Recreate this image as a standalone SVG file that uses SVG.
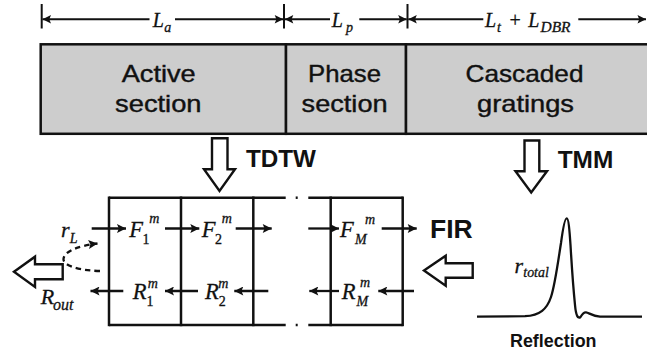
<svg xmlns="http://www.w3.org/2000/svg" width="647" height="354" viewBox="0 0 647 354">
<style>
.box{fill:#cdcdcd;stroke:#111;stroke-width:2.5}
.sec{font-family:"Liberation Sans",Arial,sans-serif;font-size:24px;fill:#111;stroke:#111;stroke-width:0.4;text-anchor:middle}
.bold{font-family:"Liberation Sans",Arial,sans-serif;font-weight:bold;fill:#111}
.m{font-family:"Liberation Serif","Times New Roman",serif;font-style:italic;fill:#111;stroke:#111;stroke-width:0.3}
.up{font-family:"Liberation Serif","Times New Roman",serif;fill:#111;stroke:#111;stroke-width:0.3}
.ln{stroke:#111;stroke-width:2.5;fill:none}
.dim{stroke:#111;stroke-width:2;fill:none}
.ar{stroke:#111;stroke-width:2.3;fill:none}
.open{fill:#fff;stroke:#111;stroke-width:2.4;stroke-linejoin:miter}
</style>
<defs>
<marker id="ah" viewBox="0 0 10 10" refX="10" refY="5" markerWidth="10" markerHeight="9" markerUnits="userSpaceOnUse" orient="auto-start-reverse">
<path d="M0,0 L10,5 L0,10 L2,5 z" fill="#111"/>
</marker>
<marker id="dh" viewBox="0 0 10 10" refX="10" refY="5" markerWidth="10" markerHeight="8.5" markerUnits="userSpaceOnUse" orient="auto-start-reverse">
<path d="M0,0 L10,5 L0,10 L2,5 z" fill="#111"/>
</marker>
</defs>

<g id="active-section">
<rect class="box" x="40.7" y="44.3" width="245.3" height="89.5"/>
<text class="sec" x="158.7" y="81.7" textLength="74" lengthAdjust="spacingAndGlyphs">Active</text>
<text class="sec" x="158.3" y="111.7" textLength="86.5" lengthAdjust="spacingAndGlyphs">section</text>
</g>
<g id="phase-section">
<rect class="box" x="286" y="44.3" width="120" height="89.5"/>
<text class="sec" x="344.5" y="81.7" textLength="73" lengthAdjust="spacingAndGlyphs">Phase</text>
<text class="sec" x="344.6" y="111.7" textLength="86" lengthAdjust="spacingAndGlyphs">section</text>
</g>
<g id="cascaded-gratings">
<rect class="box" x="406" y="44.3" width="260" height="89.5"/>
<text class="sec" x="524.5" y="81.7" textLength="118" lengthAdjust="spacingAndGlyphs">Cascaded</text>
<text class="sec" x="525.5" y="111.7" textLength="97" lengthAdjust="spacingAndGlyphs">gratings</text>
</g>

<g id="dimensions">
<line class="dim" x1="41.7" y1="4" x2="41.7" y2="28.5"/>
<line class="dim" x1="284" y1="4" x2="284" y2="28.5"/>
<line class="dim" x1="407.5" y1="4" x2="407.5" y2="28.5"/>
<line class="dim" x1="42.5" y1="19.3" x2="149.5" y2="19.3" marker-start="url(#dh)"/>
<line class="dim" x1="175" y1="19.3" x2="283.2" y2="19.3" marker-end="url(#dh)"/>
<line class="dim" x1="284.8" y1="19.3" x2="330" y2="19.3" marker-start="url(#dh)"/>
<line class="dim" x1="359.3" y1="19.3" x2="406.7" y2="19.3" marker-end="url(#dh)"/>
<line class="dim" x1="408.3" y1="19.3" x2="483.3" y2="19.3" marker-start="url(#dh)"/>
<line class="dim" x1="578.3" y1="19.3" x2="646" y2="19.3" marker-end="url(#dh)"/>
<text class="m" x="152.7" y="26.5" font-size="20">L</text>
<text class="m" x="164.3" y="32" font-size="14">a</text>
<text class="m" x="331.7" y="26.5" font-size="20">L</text>
<text class="m" x="346" y="32" font-size="14">p</text>
<text class="m" x="485" y="26.5" font-size="20">L</text>
<text class="m" x="497" y="32" font-size="14">t</text>
<text class="up" x="509.5" y="26.5" font-size="20">+</text>
<text class="m" x="528.3" y="26.5" font-size="20">L</text>
<text class="m" x="540.5" y="32" font-size="14" textLength="30" lengthAdjust="spacingAndGlyphs">DBR</text>
</g>

<g id="tdtw">
<polygon class="open" points="212,138.3 227.5,138.3 227.5,169.3 235,169.3 219.5,191 204,169.3 212,169.3"/>
<text class="bold" x="246" y="167" font-size="24" textLength="70" lengthAdjust="spacingAndGlyphs">TDTW</text>
</g>
<g id="tmm">
<polygon class="open" points="524.5,140.5 539.3,140.5 539.3,171.3 547,171.3 531.2,192.5 515.5,171.3 524.5,171.3"/>
<text class="bold" x="557.7" y="167.7" font-size="24" textLength="55.6" lengthAdjust="spacingAndGlyphs">TMM</text>
</g>

<g id="grid">
<line class="ln" x1="109" y1="197.7" x2="285.7" y2="197.7"/>
<line class="ln" x1="295.7" y1="197.7" x2="297.7" y2="197.7"/>
<line class="ln" x1="308.3" y1="197.7" x2="402.7" y2="197.7"/>
<line class="ln" x1="109" y1="325" x2="285.7" y2="325"/>
<line class="ln" x1="295.7" y1="325" x2="297.7" y2="325"/>
<line class="ln" x1="308.3" y1="325" x2="402.7" y2="325"/>
<line class="ln" x1="109" y1="196.5" x2="109" y2="326.2"/>
<line class="ln" x1="181" y1="196.5" x2="181" y2="326.2"/>
<line class="ln" x1="253.3" y1="196.5" x2="253.3" y2="326.2"/>
<line class="ln" x1="330.7" y1="196.5" x2="330.7" y2="326.2"/>
<line class="ln" x1="402.7" y1="196.5" x2="402.7" y2="326.2"/>
<text class="m" x="129.3" y="237.3" font-size="22.5">F</text>
<text class="up" x="142.5" y="243.5" font-size="14">1</text>
<text class="m" x="149.3" y="223.3" font-size="14">m</text>
<text class="m" x="201.7" y="237.3" font-size="22.5">F</text>
<text class="up" x="215" y="243.5" font-size="14">2</text>
<text class="m" x="221.7" y="223.3" font-size="14">m</text>
<text class="m" x="340" y="237.3" font-size="22.5">F</text>
<text class="m" x="355" y="243.5" font-size="14">M</text>
<text class="m" x="365" y="223.8" font-size="14">m</text>
<text class="m" x="132.7" y="299.3" font-size="22.5">R</text>
<text class="up" x="146.6" y="305.5" font-size="14">1</text>
<text class="m" x="147.7" y="288.3" font-size="14">m</text>
<text class="m" x="205" y="299.3" font-size="22.5">R</text>
<text class="up" x="218.8" y="305.5" font-size="14">2</text>
<text class="m" x="218.3" y="288.3" font-size="14">m</text>
<text class="m" x="341.7" y="299.3" font-size="22.5">R</text>
<text class="m" x="356.5" y="305.5" font-size="14">M</text>
<text class="m" x="360" y="286.7" font-size="14">m</text>
</g>

<g id="r-l">
<text class="m" x="61" y="237.3" font-size="22">r</text>
<text class="m" x="69.8" y="243.3" font-size="14">L</text>
</g>
<g id="r-out">
<polygon class="open" points="14,271.7 35,256.7 35,264.2 62.7,264.2 62.7,279.3 35,279.3 35,287"/>
<text class="m" x="40.7" y="304" font-size="22">R</text>
<text class="m" x="53" y="310" font-size="16">out</text>
</g>
<g id="fir">
<text class="bold" x="430" y="238.3" font-size="25.5" textLength="42.7" lengthAdjust="spacingAndGlyphs">FIR</text>
<polygon class="open" points="424,270.5 445.7,255.7 445.7,263.3 472.7,263.3 472.7,277.7 445.7,277.7 445.7,285.7"/>
</g>
<g id="reflection">
<path class="ar" d="M477,316.6 L525,316.2 C540,315.4 547,309 551,297 C555,285 558,262 561,243 C563,228 565,218.3 566.7,218.3 C568.5,218.3 569.5,230 570.5,245 C571.5,262 573,285 575,305 C576,316 578,319 580.5,317 C582,314.5 584,312 586,312.3 C589,312.7 592,316 600,316.6 L642,316.6"/>
<text class="m" x="514.5" y="272.7" font-size="22">r</text>
<text class="m" x="523.3" y="276.5" font-size="14.5" textLength="25.5" lengthAdjust="spacingAndGlyphs">total</text>
<text class="bold" x="510" y="346.5" font-size="19" textLength="86.5" lengthAdjust="spacingAndGlyphs">Reflection</text>
</g>

<g id="connectors">
<line class="ar" x1="91.7" y1="228.5" x2="126" y2="228.5" marker-end="url(#ah)"/>
<line class="ar" x1="165" y1="228.5" x2="199.3" y2="228.5" marker-end="url(#ah)"/>
<line class="ar" x1="235.7" y1="228.5" x2="271.7" y2="228.5" marker-end="url(#ah)"/>
<line class="ar" x1="308.3" y1="228.5" x2="339" y2="228.5" marker-end="url(#ah)"/>
<line class="ar" x1="381.7" y1="228.5" x2="416.7" y2="228.5" marker-end="url(#ah)"/>
<line class="ar" x1="123.3" y1="291" x2="90.5" y2="291" marker-end="url(#ah)"/>
<line class="ar" x1="198" y1="291" x2="165" y2="291" marker-end="url(#ah)"/>
<line class="ar" x1="268.3" y1="291" x2="234.3" y2="291" marker-end="url(#ah)"/>
<line class="ar" x1="339" y1="291" x2="309.3" y2="291" marker-end="url(#ah)"/>
<line class="ar" x1="414" y1="291" x2="378.3" y2="291" marker-end="url(#ah)"/>
<path class="ar" d="M100,271 C80,270.5 63,266 63.5,259 C64,251 80,245.5 97.5,243.5" stroke-dasharray="5.5,4" marker-end="url(#ah)"/>
</g>
</svg>
